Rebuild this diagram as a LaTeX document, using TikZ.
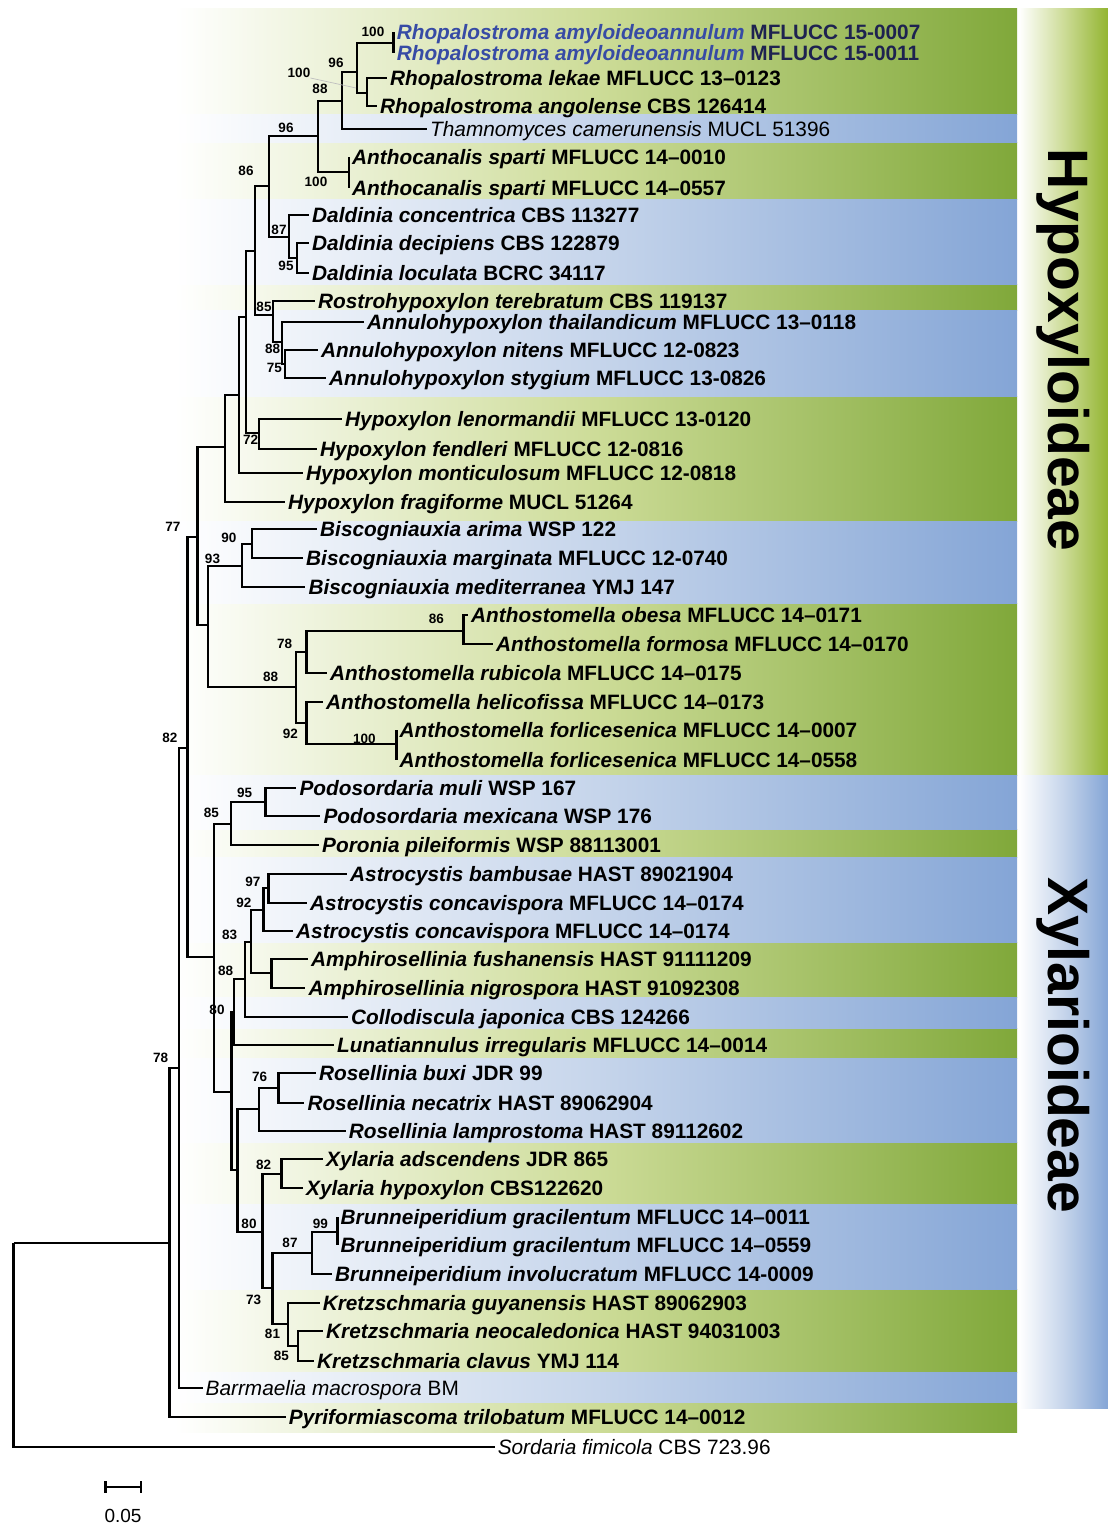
\documentclass[tikz,border=0pt]{standalone}
\usepackage{fontspec}
\setmainfont{Liberation Sans}
\usepackage{xcolor}

\definecolor{gdark}{RGB}{128,168,58}
\definecolor{gmid}{RGB}{205,220,152}
\definecolor{bdark}{RGB}{132,165,214}
\definecolor{bmid}{RGB}{198,213,235}
\definecolor{rhoblue}{RGB}{55,75,165}
\definecolor{rhonavy}{RGB}{30,34,80}

\newcommand{\taxb}[2]{\textbf{\textit{#1} #2}}
\newcommand{\taxr}[2]{\textit{#1} #2}

\tikzset{
  branch/.style={line width=2.3pt},
  tiplab/.style={anchor=west, inner sep=3pt, text height=15.6pt, text depth=0.6pt,
    font=\fontsize{20.8}{22}\selectfont},
  supp/.style={inner sep=0pt, font=\bfseries\fontsize{13.5}{14}\selectfont},
  clade/.style={rotate=-90, inner sep=0pt, font=\bfseries\fontsize{57}{60}\selectfont}
}

\begin{document}
\begin{tikzpicture}[x=1pt,y=-1pt]
  \useasboundingbox (0,0) rectangle (1108,1524);

  % Background bands
  \foreach \a/\b in {8/114,142/199,284/310,396/521,603/775,829/857,942/997,1028/1058,1142/1204,1289/1372,1402/1432}
    \shade[left color=white, right color=gdark, middle color=gmid] (175,\a) rectangle (1017,\b);
  \foreach \a/\b in {114/142,199/284,310/396,521/603,775/829,857/942,997/1028,1058/1142,1204/1289,1372/1402}
    \shade[left color=white, right color=bdark, middle color=bmid] (175,\a) rectangle (1017,\b);

  % Subfamily columns
  \shade[left color=white, right color=gdark!85!yellow, middle color=gmid] (1019,8) rectangle (1108,775);
  \shade[left color=white, right color=bdark, middle color=bmid] (1019,775) rectangle (1108,1408);
  \node[clade] (hypo) at (1063,350) {Hypoxyloideae};
  \node[clade] (xyla) at (1063,1045) {Xylarioideae};

  % Internal nodes
  \foreach \n/\x/\y in {amy/393.6/42.7, lek/367/93, rho/357/72, rhoT/342/101, anth/349/172,
      n318/318/136, dDL/297/258, dald/289/237, n269/269/186, aNS/285/364, annu/281.7/341.7,
      rost/273.3/315, n255/255/250.7, hLF/259.3/433.3, n246/246/316.7, n239/238.7/395,
      n225/225.3/447.3, bAM/252/544, bisc/241.8/565.7, aOF/463.6/630.7, a78/306.4/651.7,
      aFF/396.4/744.3, a92/306.4/722.7, a88/295.7/687.3, n208/208/625, n197/197.4/537.3,
      n187/187.5/747.7, pod/265.4/801.7, pod85/231/824, astBC/268.6/888.3, ast/263.6/910,
      amph/271.4/973.3, n250/250.7/941.7, n245/245/979.3, n234/234.3/1011.7,
      ros2/278.6/1088.3, ros/258.9/1109.3, xylA/281.4/1174, brG/337.5/1231.7,
      br/311.8/1252.7, krNC/298.2/1345.7, kr/287.9/1324, n272/272.5/1288.3,
      n262/262.5/1231.7, n237/237.5/1170, n231/231.4/1091.7, xyl/214.3/957.3,
      n179/179.3/1068.3, n170/169.6/1242.7, root/13.6/1242.7}
    \coordinate (\n) at (\x,\y);

  % Tips and taxon labels
  \foreach \n/\x/\y/\lab in {
      t1/393.6/31.7/{\color{rhoblue}\textbf{\textit{Rhopalostroma amyloideoannulum} \color{rhonavy}MFLUCC 15-0007}},
      t2/393.6/53.3/{\color{rhoblue}\textbf{\textit{Rhopalostroma amyloideoannulum} \color{rhonavy}MFLUCC 15-0011}},
      t3/387/78/{\taxb{Rhopalostroma lekae}{MFLUCC 13–0123}},
      t4/377/106/{\taxb{Rhopalostroma angolense}{CBS 126414}},
      t5/427/129/{\taxr{Thamnomyces camerunensis}{MUCL 51396}},
      t6/349/157/{\taxb{Anthocanalis sparti}{MFLUCC 14–0010}},
      t7/349/188/{\taxb{Anthocanalis sparti}{MFLUCC 14–0557}},
      t8/309/215/{\taxb{Daldinia concentrica}{CBS 113277}},
      t9/309/243/{\taxb{Daldinia decipiens}{CBS 122879}},
      t10/309/273/{\taxb{Daldinia loculata}{BCRC 34117}},
      t11/315/300.7/{\taxb{Rostrohypoxylon terebratum}{CBS 119137}},
      t12/364/321.7/{\taxb{Annulohypoxylon thailandicum}{MFLUCC 13–0118}},
      t13/318/350/{\taxb{Annulohypoxylon nitens}{MFLUCC 12-0823}},
      t14/326/377.7/{\taxb{Annulohypoxylon stygium}{MFLUCC 13-0826}},
      t15/342/419/{\taxb{Hypoxylon lenormandii}{MFLUCC 13-0120}},
      t16/317/449.3/{\taxb{Hypoxylon fendleri}{MFLUCC 12-0816}},
      t17/303/472.7/{\taxb{Hypoxylon monticulosum}{MFLUCC 12-0818}},
      t18/285/501.7/{\taxb{Hypoxylon fragiforme}{MUCL 51264}},
      t19/317/529.3/{\taxb{Biscogniauxia arima}{WSP 122}},
      t20/303/558.3/{\taxb{Biscogniauxia marginata}{MFLUCC 12-0740}},
      t21/305.4/587.3/{\taxb{Biscogniauxia mediterranea}{YMJ 147}},
      t22/468/615/{\taxb{Anthostomella obesa}{MFLUCC 14–0171}},
      t23/493/644/{\taxb{Anthostomella formosa}{MFLUCC 14–0170}},
      t24/327/672.7/{\taxb{Anthostomella rubicola}{MFLUCC 14–0175}},
      t25/323/701.7/{\taxb{Anthostomella helicofissa}{MFLUCC 14–0173}},
      t26/396.4/730/{\taxb{Anthostomella forlicesenica}{MFLUCC 14–0007}},
      t27/396.4/760/{\taxb{Anthostomella forlicesenica}{MFLUCC 14–0558}},
      t28/296.4/787.7/{\taxb{Podosordaria muli}{WSP 167}},
      t29/320.4/816/{\taxb{Podosordaria mexicana}{WSP 176}},
      t30/319/845/{\taxb{Poronia pileiformis}{WSP 88113001}},
      t31/347/874/{\taxb{Astrocystis bambusae}{HAST 89021904}},
      t32/307/902.7/{\taxb{Astrocystis concavispora}{MFLUCC 14–0174}},
      t33/293/930.7/{\taxb{Astrocystis concavispora}{MFLUCC 14–0174}},
      t34/308/959.3/{\taxb{Amphirosellinia fushanensis}{HAST 91111209}},
      t35/305.4/988.3/{\taxb{Amphirosellinia nigrospora}{HAST 91092308}},
      t36/348/1016.7/{\taxb{Collodiscula japonica}{CBS 124266}},
      t37/334/1045/{\taxb{Lunatiannulus irregularis}{MFLUCC 14–0014}},
      t38/316/1073.3/{\taxb{Rosellinia buxi}{JDR 99}},
      t39/304.3/1102.7/{\taxb{Rosellinia necatrix}{HAST 89062904}},
      t40/345.7/1130.7/{\taxb{Rosellinia lamprostoma}{HAST 89112602}},
      t41/323/1159.3/{\taxb{Xylaria adscendens}{JDR 865}},
      t42/303/1188.3/{\taxb{Xylaria hypoxylon}{CBS122620}},
      t43/337.5/1216.7/{\taxb{Brunneiperidium gracilentum}{MFLUCC 14–0011}},
      t44/337.5/1245/{\taxb{Brunneiperidium gracilentum}{MFLUCC 14–0559}},
      t45/332/1274/{\taxb{Brunneiperidium involucratum}{MFLUCC 14-0009}},
      t46/319.6/1303.3/{\taxb{Kretzschmaria guyanensis}{HAST 89062903}},
      t47/323/1331/{\taxb{Kretzschmaria neocaledonica}{HAST 94031003}},
      t48/314/1360.7/{\taxb{Kretzschmaria clavus}{YMJ 114}},
      t49/202.5/1388.3/{\taxr{Barrmaelia macrospora}{BM}},
      t50/285.7/1417.3/{\taxb{Pyriformiascoma trilobatum}{MFLUCC 14–0012}},
      t51/494.6/1446.7/{\taxr{Sordaria fimicola}{CBS 723.96}}}
  {
    \coordinate (\n) at (\x,\y);
    \node[tiplab] (l\n) at (\n) {\lab};
  }

  % Branches
  \foreach \a/\b in {amy/t1, amy/t2, lek/t3, lek/t4, rho/amy, rho/lek, rhoT/rho, rhoT/t5,
      anth/t6, anth/t7, n318/rhoT, n318/anth, dald/t8, dald/dDL, dDL/t9, dDL/t10,
      n269/n318, n269/dald, rost/t11, rost/annu, annu/t12, annu/aNS, aNS/t13, aNS/t14,
      n255/n269, n255/rost, n246/n255, n246/hLF, hLF/t15, hLF/t16, n239/n246, n239/t17,
      n225/n239, n225/t18, bAM/t19, bAM/t20, bisc/bAM, bisc/t21, aOF/t22, aOF/t23,
      a78/aOF, a78/t24, a92/t25, a92/aFF, aFF/t26, aFF/t27, a88/a78, a88/a92,
      n208/bisc, n208/a88, n197/n225, n197/n208, n187/n197, n187/xyl,
      pod/t28, pod/t29, pod85/pod, pod85/t30, astBC/t31, astBC/t32, ast/astBC, ast/t33,
      amph/t34, amph/t35, n250/ast, n250/amph, n245/n250, n245/t36, n234/n245, n234/t37,
      ros2/t38, ros2/t39, ros/ros2, ros/t40, xylA/t41, xylA/t42, brG/t43, brG/t44,
      br/brG, br/t45, kr/t46, kr/krNC, krNC/t47, krNC/t48, n272/br, n272/kr,
      n262/xylA, n262/n272, n237/ros, n237/n262, n231/n234, n231/n237,
      xyl/pod85, xyl/n231, n179/n187, n179/t49, n170/n179, n170/t50, root/n170, root/t51}
    \draw[branch] (\a) |- (\b);

  % Bootstrap values
  \foreach \n/\x/\y/\v in {s1/373/32/100, s2/336/63/96, s3/299/73/100, s4/320/89/88,
      s5/316/182/100, s6/286/128/96, s7/286/266/95, s8/279/230/87, s9/246/171/86,
      s10/274.3/368.3/75, s11/272.7/349.3/88, s12/264/307/85, s13/250.7/440/72,
      s14/229/538.3/90, s15/212.5/559.3/93, s16/436.4/619/86, s17/284.6/644/78,
      s18/364.3/739/100, s19/290.4/734.3/92, s20/270.7/677.3/88, s21/173/527/77,
      s22/170/737.7/82, s23/244.6/793.3/95, s24/211.4/812.7/85, s25/252.9/882.3/97,
      s26/244/903.3/92, s27/229.6/935/83, s28/225.7/970.7/88, s29/217/1010/80,
      s30/259.6/1077.3/76, s31/263.6/1165/82, s32/320.4/1224.3/99, s33/290/1243.3/87,
      s34/253.6/1300/73, s35/249/1224/80, s36/272.5/1334.3/81, s37/281.4/1356/85,
      s38/160.7/1058.3/78}
    \node[supp] (\n) at (\x,\y) {\v};
  \coordinate (lead) at (356,88);
  \draw[gray!50, line width=0.7pt] (s3.south east) -- (lead);

  % Scale bar
  \coordinate (sbL) at (105.4,1486.7);
  \coordinate (sbR) at (141,1486.7);
  \draw[line width=2.3pt] (sbL) -- (sbR);
  \draw[line width=2.3pt] ([yshift=-6pt]sbL) -- ([yshift=6pt]sbL);
  \draw[line width=2.3pt] ([yshift=-6pt]sbR) -- ([yshift=6pt]sbR);
  \node[font=\fontsize{19}{20}\selectfont] (sblab) at (123,1516) {0.05};
\end{tikzpicture}
\end{document}
